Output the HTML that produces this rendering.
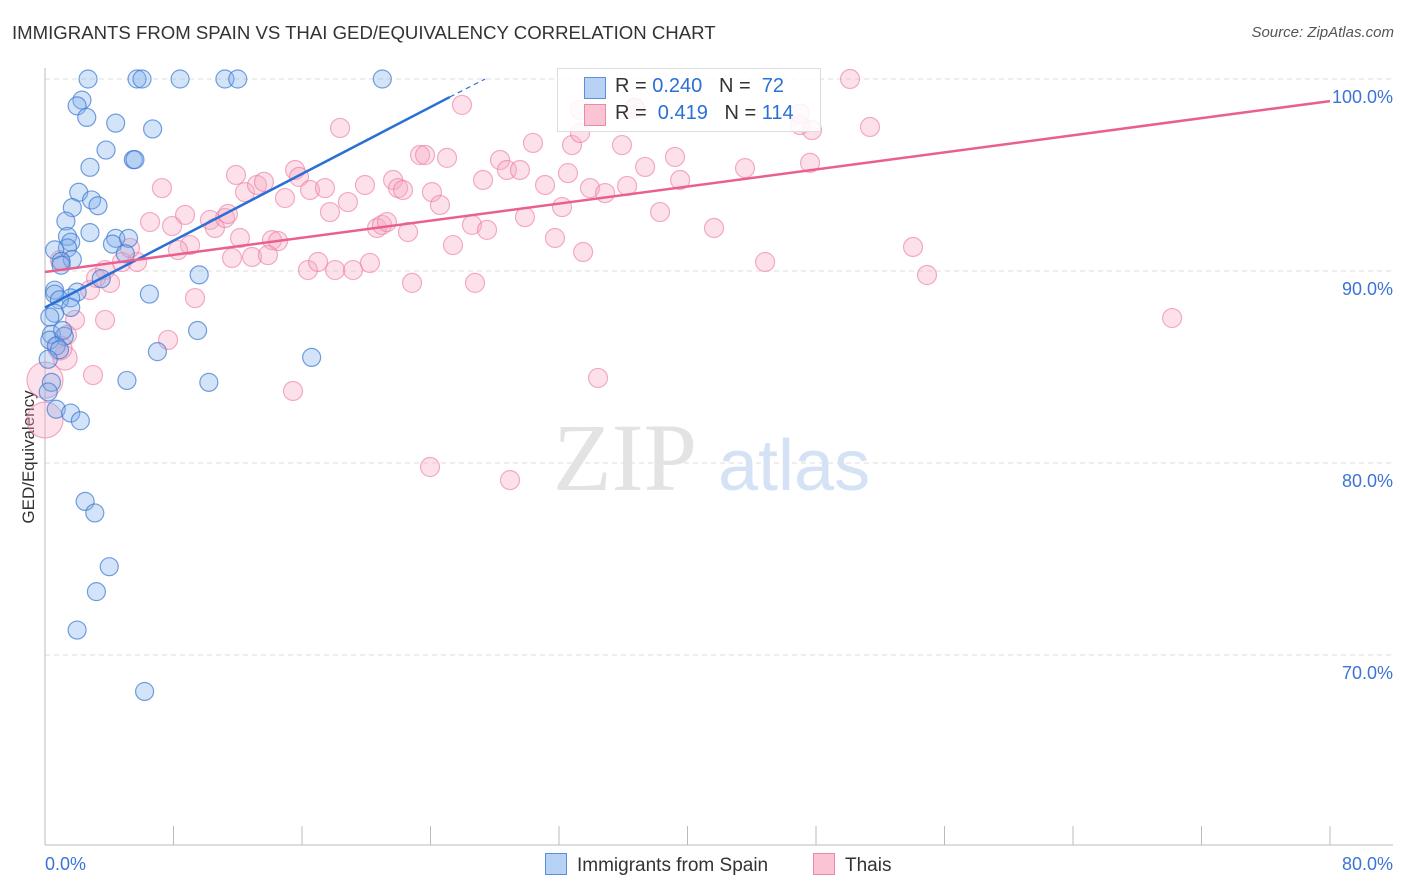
<!DOCTYPE html>
<html><head><meta charset="utf-8">
<style>
body{margin:0;background:#fff;font-family:"Liberation Sans",sans-serif;}
#wrap{position:relative;width:1406px;height:892px;overflow:hidden}
.t{position:absolute;white-space:nowrap}
</style></head>
<body><div id="wrap">
<div class="t" style="left:12px;top:22px;font-size:18.6px;color:#333;">IMMIGRANTS FROM SPAIN VS THAI GED/EQUIVALENCY CORRELATION CHART</div>
<div class="t" style="right:12px;top:24px;font-size:15px;color:#555;font-style:italic;">Source: ZipAtlas.com</div>
<svg id="svg" width="1406" height="892" style="position:absolute;left:0;top:0"></svg>
</div>
<script>
const xTicks=[0,80];
const yTicks=[100,90,80,70];
const blueX=[2.68,5.73,6.04,8.41,11.2,12.0,21.0,2.3,2.0,2.6,4.4,6.7,3.8,5.5,5.6,2.8,2.1,2.9,3.3,1.7,1.3,2.8,4.4,4.2,5.2,1.4,1.6,1.4,0.6,1.7,1.0,1.0,3.5,2.0,1.6,0.6,0.6,0.9,6.5,9.6,1.6,0.6,0.3,9.5,0.4,1.2,0.3,0.7,0.9,7.0,16.6,5.1,10.2,0.4,0.2,0.7,1.6,2.2,2.5,3.1,4.0,3.2,2.0,6.2,5.0,1.1,0.2];
const blueY=[100,100,100,100,100,100,100,98.9,98.6,98.0,97.7,97.4,96.3,95.8,95.8,95.4,94.1,93.7,93.4,93.3,92.6,92.0,91.7,91.4,91.7,91.8,91.5,91.2,91.1,90.6,90.5,90.3,89.6,88.9,88.6,89.0,88.8,88.5,88.8,89.8,88.1,87.8,87.6,86.9,86.7,86.6,86.4,86.1,85.9,85.8,85.5,84.3,84.2,84.2,83.7,82.8,82.6,82.2,78.0,77.4,74.6,73.3,71.3,68.1,90.9,86.9,85.4];
const pinkX=[0,0,1.25,0.93,1.87,2.80,2.99,1.37,3.18,3.74,4.79,5.73,5.29,6.54,7.28,8.72,7.91,9.03,8.28,9.34,7.66,10.27,10.58,11.21,11.39,11.89,12.45,12.14,12.89,13.20,13.63,14.13,14.51,13.88,14.94,15.57,15.81,16.50,16.37,17.0,17.43,17.74,18.06,18.86,19.18,18.37,19.92,20.23,20.67,20.98,21.29,21.67,21.98,22.29,22.60,22.85,23.35,23.66,24.09,24.59,25.03,25.40,25.96,26.58,26.77,27.52,27.27,28.33,28.76,29.57,29.88,30.38,31.13,31.75,32.19,32.56,32.81,33.31,33.50,33.93,34.43,34.87,35.92,36.24,36.73,37.36,38.29,39.22,39.54,41.65,43.58,44.83,47.01,47.63,47.75,50.12,51.36,54.04,54.91,70.17,23.97,28.95,15.44,11.64,4.05,0.93,33.31,3.74,36.7,47.0];
const pinkY=[82.24,84.32,85.47,85.99,87.45,89.01,84.58,86.67,89.64,90.05,90.47,90.47,91.20,92.55,94.32,92.92,92.34,91.35,91.09,88.59,86.41,92.66,92.24,92.76,92.97,95.0,94.11,91.72,90.73,94.48,94.64,91.61,91.56,90.83,93.80,95.26,94.90,94.22,90.05,90.47,94.32,93.07,90.05,93.59,90.05,97.45,94.48,90.42,92.24,92.40,92.55,94.74,94.32,94.22,92.03,89.38,96.04,96.04,94.11,93.44,95.89,91.35,98.65,92.40,89.38,92.14,94.74,95.78,95.26,95.26,92.81,96.67,94.48,91.72,93.33,95.10,96.56,97.19,90.99,94.32,84.43,94.06,96.56,94.43,98.49,95.42,93.07,95.94,94.74,92.24,95.36,90.47,97.60,95.63,97.34,100,97.50,91.25,89.79,87.55,79.79,79.11,83.75,90.68,89.38,90.57,98.39,87.45,98.5,98.2];
const W=document.getElementById('svg');const NS='http://www.w3.org/2000/svg';
const X0=45,X1=1330,Y100=79,PX10=192;
const xs=v=>X0+(v/80)*(X1-X0);
const ys=v=>Y100+(100-v)/10*PX10;
function mk(t,a){const e=document.createElementNS(NS,t);for(const k in a)e.setAttribute(k,a[k]);W.appendChild(e);return e;}
yTicks.forEach(v=>{
const g=mk('line',{x1:X0,x2:1393,y1:ys(v),y2:ys(v),stroke:'#ddd','stroke-dasharray':'5,4'});


const t=mk('text',{x:1393,y:ys(v)+24,'text-anchor':'end','font-size':18,fill:'#3b74d6','font-family':'Liberation Sans,sans-serif'});
t.textContent=v.toFixed(1)+'%';


});
const ax=mk('line',{x1:X0,x2:X0,y1:68,y2:845,stroke:'#bbb'});


const bx=mk('line',{x1:X0,x2:1393,y1:845,y2:845,stroke:'#bbb'});


for(let i=0;i<=10;i++){const tk=mk('line',{x1:xs(i*8),x2:xs(i*8),y1:826,y2:845,stroke:'#bbb'});

}
xTicks.forEach((v,i)=>{const t=mk('text',{x:i?1393:45,y:870,'text-anchor':i?'end':'start','font-size':18,fill:'#3b74d6','font-family':'Liberation Sans,sans-serif'});t.textContent=v.toFixed(1)+'%';

});
const yt=mk('text',{x:34,y:457,'text-anchor':'middle','font-size':17,fill:'#333',transform:'rotate(-90 34 457)','font-family':'Liberation Sans,sans-serif'});yt.textContent='GED/Equivalency';


const wm=mk('text',{x:553,y:490,'font-size':96,fill:'#e3e3e3','font-family':'Liberation Serif,serif'});wm.textContent='ZIP';


const wm2=mk('text',{x:718,y:490,'font-size':72,fill:'#d5e2f5','font-family':'Liberation Sans,sans-serif'});wm2.textContent='atlas';


pinkX.forEach((v,i)=>{const r=i<2?18:(i<4?12:9.5);const c=mk('circle',{cx:xs(v),cy:ys(pinkY[i]),r:r,fill:'rgba(247,170,195,0.35)',stroke:'rgba(236,120,160,0.6)','stroke-width':1.2});

});
blueX.forEach((v,i)=>{const c=mk('circle',{cx:xs(v),cy:ys(blueY[i]),r:9,fill:'rgba(130,175,235,0.35)',stroke:'rgba(60,120,210,0.7)','stroke-width':1.2});

});
const bl=mk('line',{x1:xs(0),y1:ys(88.1),x2:xs(25.2),y2:ys(99.06),stroke:'#2a6fd6','stroke-width':2.5});


const bd=mk('line',{x1:xs(25.2),y1:ys(99.06),x2:xs(27.4),y2:ys(100),stroke:'#2a6fd6','stroke-width':1.2,'stroke-dasharray':'5,4'});


const pl=mk('line',{x1:xs(0),y1:ys(89.95),x2:xs(80),y2:ys(98.85),stroke:'#e9608f','stroke-width':2.5});


</script>
<div class="t" style="left:557px;top:68px;width:262px;height:62px;border:1px solid #ddd;background:rgba(255,255,255,0.85);font-size:20px;color:#333;">
<div style="position:absolute;left:26px;top:8px;width:20px;height:20px;background:#b8d2f5;border:1px solid #5b8fdc"></div>
<div class="t" style="left:57px;top:6px">R = <span style="color:#2a6fd6">0.240</span>&nbsp;&nbsp;&nbsp;N = &nbsp;<span style="color:#2a6fd6">72</span></div>
<div style="position:absolute;left:26px;top:35px;width:20px;height:20px;background:#fac4d4;border:1px solid #e98aa8"></div>
<div class="t" style="left:57px;top:33px">R = &nbsp;<span style="color:#2a6fd6">0.419</span>&nbsp;&nbsp;&nbsp;N = <span style="color:#2a6fd6">114</span></div>
</div>
<div class="t" style="left:545px;top:853px;font-size:19px;color:#333;"><span style="display:inline-block;width:20px;height:20px;background:#b8d2f5;border:1px solid #5b8fdc;vertical-align:-4px;margin-right:10px"></span>Immigrants from Spain</div>
<div class="t" style="left:813px;top:853px;font-size:19px;color:#333;"><span style="display:inline-block;width:20px;height:20px;background:#fac4d4;border:1px solid #e98aa8;vertical-align:-4px;margin-right:10px"></span>Thais</div>
</body></html>
